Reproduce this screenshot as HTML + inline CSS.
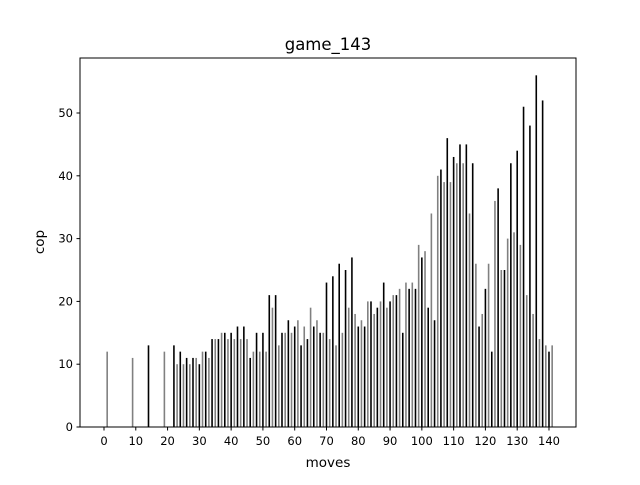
<!DOCTYPE html>
<html><head><meta charset="utf-8"><style>
body{margin:0;background:#fff;font-family:"Liberation Sans","DejaVu Sans",sans-serif}
svg text{font-family:"DejaVu Sans","Liberation Sans",sans-serif}
</style></head><body>
<svg id="chart" width="640" height="480" xmlns="http://www.w3.org/2000/svg">
<rect width="640" height="480" fill="#fff"/>
<text x="328" y="50" text-anchor="middle" font-size="16.5">game_143</text>
<g id="bars"></g>
<g id="axes"></g>
<text x="328" y="467" text-anchor="middle" font-size="13.5">moves</text>
<text x="44" y="242" text-anchor="middle" font-size="13.5" transform="rotate(-90 44 242)">cop</text>
</svg>
<script>
const moves = [1,9,14,19,22,23,24,25,26,27,28,29,30,31,32,33,34,35,36,37,38,39,40,41,42,43,44,45,46,47,48,49,50,51,52,53,54,55,56,57,58,59,60,61,62,63,64,65,66,67,68,69,70,71,72,73,74,75,76,77,78,79,80,81,82,83,84,85,86,87,88,89,90,91,92,93,94,95,96,97,98,99,100,101,102,103,104,105,106,107,108,109,110,111,112,113,114,115,116,117,118,119,120,121,122,123,124,125,126,127,128,129,130,131,132,133,134,135,136,137,138,139,140,141];
const cop = [12,11,13,12,13,10,12,10,11,10,11,11,10,12,12,11,14,14,14,15,15,14,15,14,16,14,16,14,11,12,15,12,15,12,21,19,21,13,15,15,17,15,16,17,13,16,14,19,16,17,15,15,23,14,24,13,26,15,25,19,27,18,16,17,16,20,20,18,19,20,23,19,20,21,21,22,15,23,22,23,22,29,27,28,19,34,17,40,41,39,46,39,43,42,45,42,45,34,42,26,16,18,22,26,12,36,38,25,25,30,42,31,44,29,51,21,48,18,56,14,52,13,12,13];
const xTicks = [0,10,20,30,40,50,60,70,80,90,100,110,120,130,140];
const yTicks = [0,10,20,30,40,50];
const L=80,R=576,T=58,B=427, xMin=-7.55, xMax=148.5, yMax=58.76;
const xs = v => L + (v - xMin) / (xMax - xMin) * (R - L);
const ys = v => B - v / yMax * (B - T);
const NS="http://www.w3.org/2000/svg";
const bars=document.getElementById('bars'), axes=document.getElementById('axes');
const bw = xs(0.5)-xs(0);
moves.forEach((m,i)=>{
  const r=document.createElementNS(NS,'rect');
  r.setAttribute('x', xs(m)-bw/2);
  r.setAttribute('y', ys(cop[i]));
  r.setAttribute('width', bw);
  r.setAttribute('height', ys(0)-ys(cop[i]));
  r.setAttribute('fill', m%2===0 ? '#000' : '#808080');
  
  
  bars.appendChild(r);
});
const frame=document.createElementNS(NS,'rect');
frame.setAttribute('x',L);frame.setAttribute('y',T);frame.setAttribute('width',R-L);frame.setAttribute('height',B-T);
frame.setAttribute('fill','none');frame.setAttribute('stroke','#000');frame.setAttribute('stroke-width','1');


axes.appendChild(frame);
xTicks.forEach(t=>{
  const x=xs(t);
  const l=document.createElementNS(NS,'line');
  l.setAttribute('x1',x);l.setAttribute('x2',x);l.setAttribute('y1',B);l.setAttribute('y2',B+3.5);l.setAttribute('stroke','#000');
  
  
  axes.appendChild(l);
  const tx=document.createElementNS(NS,'text');
  tx.setAttribute('x',x);tx.setAttribute('y',B+18);tx.setAttribute('text-anchor','middle');tx.setAttribute('font-size','11.5');
  tx.textContent=t;
  
  
  axes.appendChild(tx);
});
yTicks.forEach(t=>{
  const y=ys(t);
  const l=document.createElementNS(NS,'line');
  l.setAttribute('x1',L-3.5);l.setAttribute('x2',L);l.setAttribute('y1',y);l.setAttribute('y2',y);l.setAttribute('stroke','#000');
  
  
  axes.appendChild(l);
  const tx=document.createElementNS(NS,'text');
  tx.setAttribute('x',L-7);tx.setAttribute('y',y+4);tx.setAttribute('text-anchor','end');tx.setAttribute('font-size','11.5');
  tx.textContent=t;
  
  
  axes.appendChild(tx);
});
</script>
</body></html>
